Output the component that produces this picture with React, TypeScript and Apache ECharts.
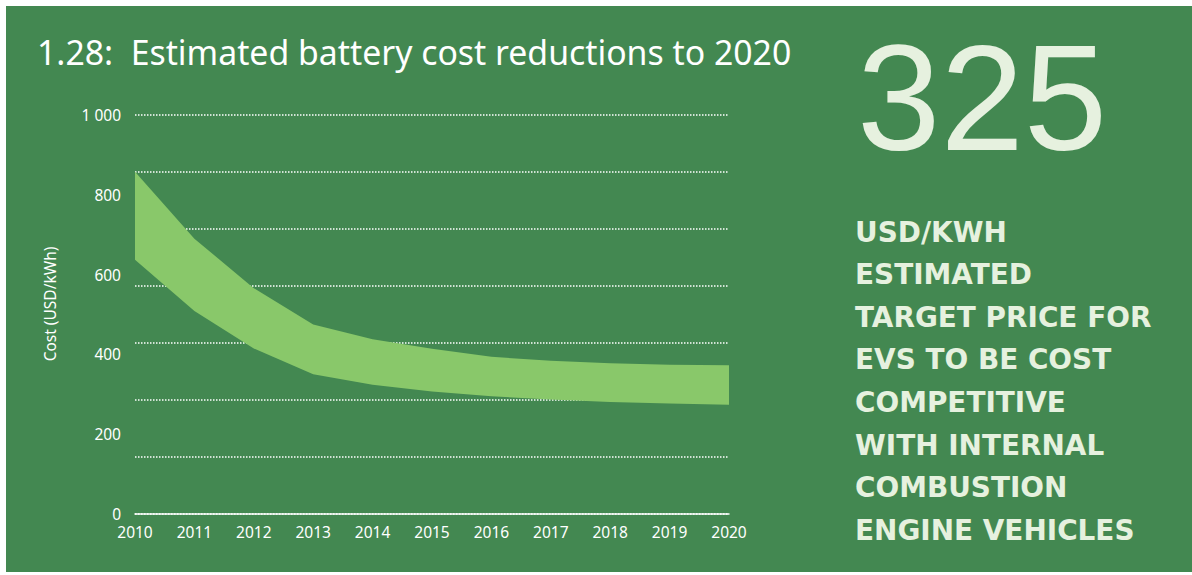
import React, { useEffect, useRef } from "react";
import * as echarts from "echarts";

const years = ["2010", "2011", "2012", "2013", "2014", "2015", "2016", "2017", "2018", "2019", "2020"];
const lowerCost = [637, 509, 415, 350, 324, 307, 295, 287, 281, 277, 274];
const upperCost = [858, 690, 566, 475, 438, 414, 394, 384, 378, 374, 373];
const yTicks = [0, 200, 400, 600, 800, 1000];
const titleText = "1.28:  Estimated battery cost reductions to 2020";
const yAxisName = "Cost (USD/kWh)";
const bigNumber = "325";
const sideLines = [
  "USD/KWH",
  "ESTIMATED",
  "TARGET PRICE FOR",
  "EVS TO BE COST",
  "COMPETITIVE",
  "WITH INTERNAL",
  "COMBUSTION",
  "ENGINE VEHICLES",
];

const BG = "#438851";
const BAND = "#89c86a";
const SIDE = "#e6f1df";

export default function App() {
  const ref = useRef<HTMLDivElement>(null);
  useEffect(() => {
    document.body.style.margin = "0";
    const chart = echarts.init(ref.current!, undefined, { renderer: "svg" });
    const bandWidth = upperCost.map((u, i) => u - lowerCost[i]);
    const font = "'Noto Sans', 'Open Sans', sans-serif";
    chart.setOption({
      animation: false,
      backgroundColor: "#ffffff",
      graphic: [
        {
          type: "rect",
          z: -10,
          shape: { x: 6, y: 6, width: 1186, height: 566 },
          style: { fill: BG },
          silent: true,
        },
        {
          type: "text",
          x: 37,
          y: 52,
          style: {
            text: titleText,
            fill: "#ffffff",
            font: `33.8px ${font}`,
            verticalAlign: "middle",
          },
        },
        {
          type: "text",
          x: 50,
          y: 304,
          rotation: Math.PI / 2,
          style: {
            text: yAxisName,
            fill: "#ffffff",
            font: `15.5px ${font}`,
            align: "center",
            verticalAlign: "middle",
          },
        },
        {
          type: "text",
          x: 857,
          y: 98,
          style: {
            text: bigNumber,
            fill: SIDE,
            font: `150px 'Liberation Sans', Arial, sans-serif`,
            lineHeight: 120,
            verticalAlign: "middle",
          },
        },
        ...sideLines.map((t, i) => ({
          type: "text",
          x: 855,
          y: 232 + i * 42.6,
          style: {
            text: t,
            fill: SIDE,
            font: `bold 27.9px 'DejaVu Sans', sans-serif`,
            verticalAlign: "middle",
          },
        })),
      ],
      grid: { left: 135, right: 463, top: 115, bottom: 61, containLabel: false },
      xAxis: {
        type: "category",
        data: years,
        boundaryGap: false,
        axisLine: { lineStyle: { color: "#ffffff", width: 1.5 } },
        axisTick: { show: false },
        axisLabel: { color: "#ffffff", fontSize: 15.5, fontFamily: font, margin: 10 },
        splitLine: { show: false },
      },
      yAxis: [
        {
          type: "value",
          min: 0,
          max: 1000,
          interval: 200,
          axisLine: { show: false },
          axisTick: { show: false },
          axisLabel: {
            color: "#ffffff",
            fontSize: 15.5,
            fontFamily: font,
            margin: 14,
            formatter: (v: number) => (yTicks.includes(v) ? (v >= 1000 ? "1 000" : String(v)) : ""),
          },
          splitLine: { show: false },
        },
        {
          type: "value",
          min: 0,
          max: 1000,
          interval: 1000 / 7,
          position: "left",
          axisLine: { show: false },
          axisTick: { show: false },
          axisLabel: { show: false },
          splitLine: { show: true, lineStyle: { color: "#ffffff", type: [1.5, 1.5], width: 1.5 } },
        },
      ],
      series: [
        {
          type: "line",
          data: lowerCost,
          stack: "band",
          symbol: "none",
          lineStyle: { width: 0 },
          silent: true,
          z: 3,
        },
        {
          type: "line",
          data: bandWidth,
          stack: "band",
          symbol: "none",
          lineStyle: { width: 0 },
          areaStyle: { color: BAND, opacity: 1 },
          silent: true,
          z: 3,
        },
      ],
    });
    return () => chart.dispose();
  }, []);
  return <div ref={ref} style={{ width: 1192, height: 575 }} />;
}
